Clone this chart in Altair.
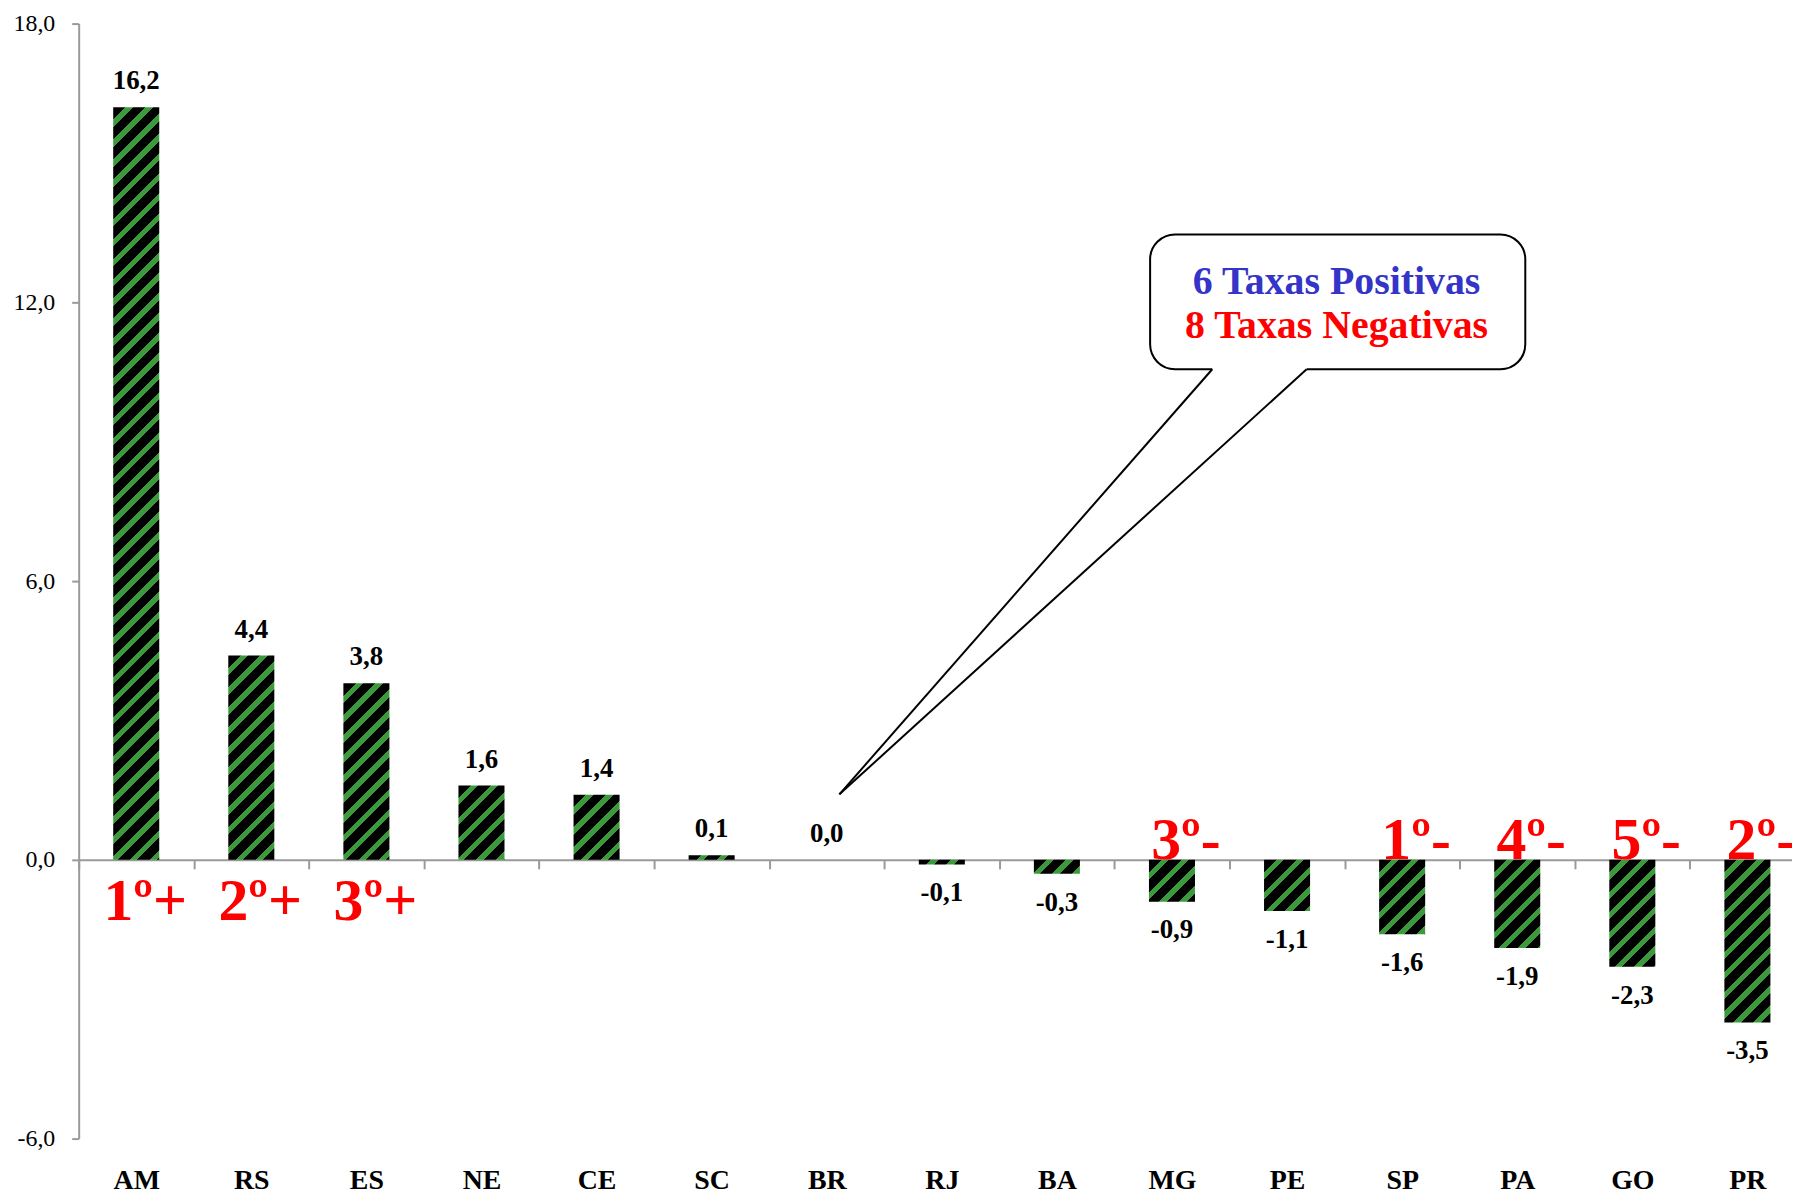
import altair as alt
import pandas as pd

# ---------------- data ----------------
states = ["AM", "RS", "ES", "NE", "CE", "SC", "BR", "RJ", "BA", "MG", "PE", "SP", "PA", "GO", "PR"]
values = [16.2, 4.4, 3.8, 1.6, 1.4, 0.1, 0.0, -0.1, -0.3, -0.9, -1.1, -1.6, -1.9, -2.3, -3.5]
ranks = ["1º+", "2º+", "3º+", "", "", "", "", "", "", "3º-", "", "1º-", "4º-", "5º-", "2º-"]
y_ticks = [-6, 0, 6, 12, 18]

box_lines = ["6 Taxas Positivas", "8 Taxas Negativas"]
box_colors = ["#3434C8", "#FF0000"]

# callout geometry, in data units (x: category-band units, y: value units)
box_x = [9.31, 12.57]
box_y = [10.56, 13.46]
box_text_x = 10.93
box_text_y = [12.19, 11.23]
pointer_base_x = [9.85, 10.67]
pointer_tip = [6.61, 1.41]

# ---------------- layout / style ----------------
PLOT_W = 1734          # plot runs a little past the right edge of the page (cropped, as in the original)
PLOT_H = 1120
Y_MIN, Y_MAX = -6, 18
N = len(states)
STEP = PLOT_W / N
BAR_FRAC = 0.4
BAR_W = STEP * BAR_FRAC
PX = PLOT_H / (Y_MAX - Y_MIN)
GREEN = "#3c9a3c"
BLACK = "#000000"
GRAY = "#9a9a9a"
SERIF = "Liberation Serif"

# diagonal stripe gradient (constant pixel period for every bar)
S = 830.0
P = 20.0
stop_parts = []
k = 0
while k * P < S:
    a = k * P / S
    b = min((k * P + 0.62 * P) / S, 1.0)
    c = min((k + 1) * P / S, 1.0)
    for off, col in ((a, BLACK), (b, BLACK), (b, GREEN), (c, GREEN)):
        stop_parts.append("{offset: %.5f, color: '%s'}" % (off, col))
    k += 1
stops_expr = "[" + ", ".join(stop_parts) + "]"
W2 = BAR_W * BAR_W
grad_expr = (
    "{gradient: 'linear', x1: 0, y1: 0, "
    f"x2: {S} * {BAR_W} / ({W2} + datum.h * datum.h), "
    f"y2: {S} * datum.h / ({W2} + datum.h * datum.h), "
    f"stops: {stops_expr}}}"
)

df = pd.DataFrame({"state": states, "value": values, "rank": ranks})
df["label"] = [f"{v:.1f}".replace(".", ",") for v in values]

xscale = alt.Scale(domain=states, paddingInner=0, paddingOuter=0)
yscale = alt.Scale(domain=[Y_MIN, Y_MAX], nice=False)

xaxis = alt.Axis(
    title=None, orient="bottom", offset=-(0 - Y_MIN) * PX,
    domainColor=GRAY, domainWidth=2, tickColor=GRAY, tickWidth=2, tickSize=9,
    tickBand="extent", labelPadding=299, labelAngle=0,
    labelFont=SERIF, labelFontSize=28, labelFontWeight="bold", labelColor="black",
)
yaxis = alt.Axis(
    title=None, values=y_ticks, grid=False,
    labelExpr="(datum.value < 0 ? '-' : '') + replace(format(abs(datum.value), '.1f'), '.', ',')",
    domainColor=GRAY, domainWidth=2, tickColor=GRAY, tickWidth=2, tickSize=7,
    labelPadding=17, labelFont=SERIF, labelFontSize=24, labelColor="black",
    labelFlush=False, labelOverlap=False,
)

X = alt.X("state:N", scale=xscale, sort=states, axis=xaxis)
Y = alt.Y("value:Q", scale=yscale, axis=yaxis)

base = alt.Chart(df)

bars = base.transform_calculate(
    h=f"abs(datum.value) * {PX}"
).transform_calculate(
    grad=grad_expr
).mark_bar(width=alt.RelativeBandSize(BAR_FRAC), strokeWidth=0).encode(
    x=X, y=Y, fill=alt.Fill("grad:N", scale=None, legend=None)
)

pos_labels = base.transform_filter("datum.value >= 0").mark_text(
    font=SERIF, fontSize=27, fontWeight="bold", color="black", baseline="alphabetic", dy=-18
).encode(x=X, y=Y, text="label:N")

neg_labels = base.transform_filter("datum.value < 0").mark_text(
    font=SERIF, fontSize=27, fontWeight="bold", color="black", baseline="top", dy=16
).encode(x=X, y=Y, text="label:N")

zeroY = alt.Y("zero:Q", scale=yscale, axis=yaxis)

rank_pos = base.transform_filter("indexof(datum.rank, '+') >= 0").transform_calculate(zero="0").mark_text(
    font=SERIF, fontSize=60, fontWeight="bold", color="#FF0000", baseline="alphabetic", dy=60, dx=9
).encode(x=X, y=zeroY, text="rank:N")

rank_neg = base.transform_filter("indexof(datum.rank, '-') >= 0").transform_calculate(zero="0").mark_text(
    font=SERIF, fontSize=60, fontWeight="bold", color="#FF0000", baseline="alphabetic", dy=-1, dx=14
).encode(x=X, y=zeroY, text="rank:N")

main = alt.layer(bars, pos_labels, neg_labels, rank_pos, rank_neg)

# ---------------- callout ----------------
qx = alt.Scale(domain=[0, N], nice=False, zero=False)

box_df = pd.DataFrame({"x": [box_x[0]], "x2": [box_x[1]], "y": [box_y[0]], "y2": [box_y[1]]})
box = alt.Chart(box_df).mark_rect(
    cornerRadius=25, fill="white", stroke="black", strokeWidth=2
).encode(
    x=alt.X("x:Q", scale=qx, axis=None), x2="x2:Q",
    y=alt.Y("y:Q", scale=yscale, axis=yaxis), y2="y2:Q",
)

gap_df = pd.DataFrame({"x": [pointer_base_x[0]], "x2": [pointer_base_x[1]], "y": [box_y[0]]})
gap = alt.Chart(gap_df).mark_rule(color="white", strokeWidth=4).encode(
    x=alt.X("x:Q", scale=qx, axis=None), x2="x2:Q",
    y=alt.Y("y:Q", scale=yscale, axis=yaxis),
)

ptr_df = pd.DataFrame({
    "x": pointer_base_x, "y": [box_y[0]] * 2,
    "x2": [pointer_tip[0]] * 2, "y2": [pointer_tip[1]] * 2,
})
pointer = alt.Chart(ptr_df).mark_rule(color="black", strokeWidth=2).encode(
    x=alt.X("x:Q", scale=qx, axis=None), x2="x2:Q",
    y=alt.Y("y:Q", scale=yscale, axis=yaxis), y2="y2:Q",
)

txt_df = pd.DataFrame({"x": [box_text_x] * 2, "y": box_text_y, "t": box_lines, "c": box_colors})
box_text = alt.Chart(txt_df).mark_text(
    font=SERIF, fontSize=40, fontWeight="bold", baseline="alphabetic", align="center"
).encode(
    x=alt.X("x:Q", scale=qx, axis=None),
    y=alt.Y("y:Q", scale=yscale, axis=yaxis),
    text="t:N",
    color=alt.Color("c:N", scale=None, legend=None),
)

callout = alt.layer(box, gap, pointer, box_text)

chart = alt.layer(main, callout).resolve_scale(x="independent").properties(
    width=PLOT_W, height=PLOT_H,
    padding={"left": 71, "top": 13, "right": -13, "bottom": 56},
    autosize=alt.AutoSizeParams(type="none"),
    background="white",
).configure_view(stroke=None)

chart.save("out.html", embed_options={"renderer": "svg", "actions": False})
